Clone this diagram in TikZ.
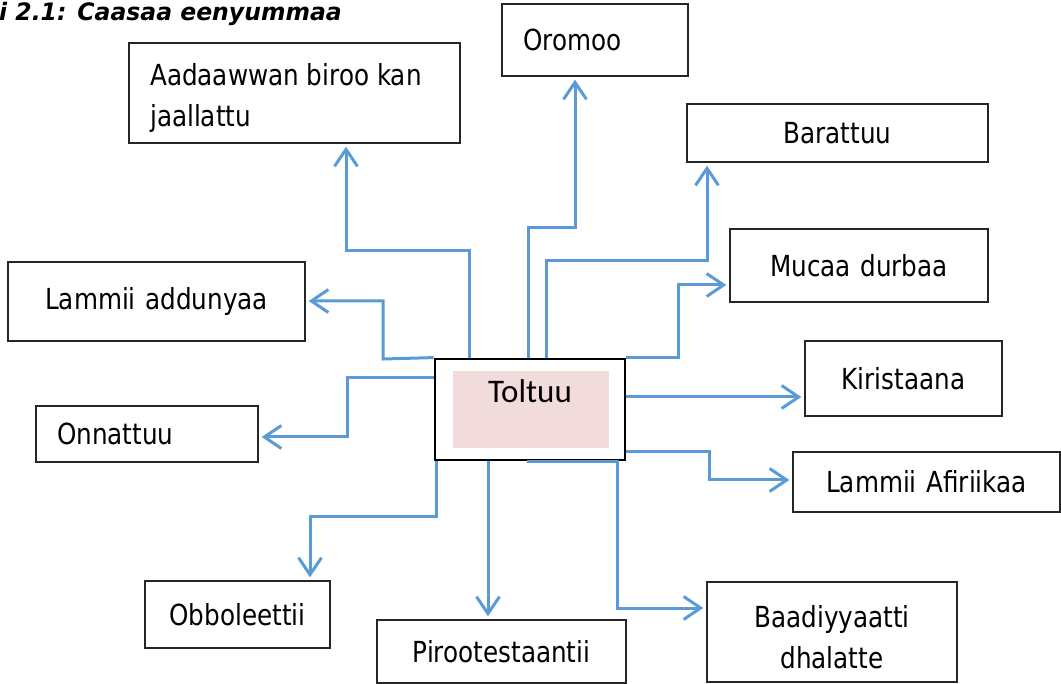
\documentclass[tikz,border=0pt]{standalone}
\usepackage{fontspec}
\setmainfont{DejaVu Sans}[FakeStretch=0.85]
\newfontfamily\calfont{Carlito}
\newfontfamily\titlefont{DejaVu Sans}[FakeStretch=0.98]
\usetikzlibrary{arrows.meta}
\definecolor{conn}{HTML}{5B9BD5}
\definecolor{pinkfill}{HTML}{F2DCDB}
\begin{document}
\begin{tikzpicture}[x=1pt,y=-1pt,
  box/.style={draw=black!85, line width=1.4pt, rectangle, inner ysep=0pt, fill=white,
    font=\fontsize{29}{37}\selectfont},
  lbl/.style={inner sep=0pt, font=\fontsize{29}{41}\selectfont},
  link/.style={draw=conn, line width=3pt, shorten >=3pt,
    -{Straight Barb[length=17pt,width=23pt]}},
  ttl/.style={font=\titlefont\fontsize{24}{24}\bfseries\itshape\selectfont}]
\useasboundingbox (0,0) rectangle (1061,684);

% title
\node[ttl, anchor=base east, inner sep=0pt] (title) at (342,21) {i 2.1: Caasaa eenyummaa};

% boxes
\node[box, minimum height=72, text width=144, inner xsep=21, align=left] (oro) at (595,40) {Oromoo};
\node[box, minimum width=331, minimum height=100] (aad) at (294.5,93) {};
\node[lbl, align=left, anchor=west] (aadt) at (150,98) {Aadaawwan biroo kan\\jaallattu};
\node[box, minimum height=58, text width=281, inner xsep=10, align=center] (bar) at (837.5,133) {Barattuu};
\node[box, minimum height=73, text width=238, inner xsep=10, align=center] (muc) at (859,265.5) {Mucaa durbaa};
\node[box, minimum height=79, text width=277, inner xsep=10, align=center] (lad) at (156.5,301.5) {Lammii addunyaa};
\node[box, minimum height=75, text width=177, inner xsep=10, align=center] (kir) at (903.5,378.5) {Kiristaana};
\node[box, minimum height=56, text width=180, inner xsep=21, align=left] (onn) at (147,434) {Onnattuu};
\node[box, minimum height=60, text width=242, inner xsep=12.5, align=center] (afr) at (926.5,482) {Lammii Afiriikaa};
\node[box, minimum height=67, text width=165, inner xsep=10, align=center] (obb) at (237.5,614.5) {Obboleettii};
\node[box, minimum height=63, text width=229, inner xsep=10, align=center] (pir) at (501.5,651.5) {Pirootestaantii};
\node[box, minimum width=250, minimum height=100] (baa) at (832,632) {};
\node[lbl, align=center] (baat) at (832,637) {Baadiyyaatti\\dhalatte};

% central box
\node[draw=black, line width=2.8pt, fill=white, minimum width=190, minimum height=101, inner sep=0pt] (t) at (530,409.5) {};
\node[fill=pinkfill, minimum width=156, minimum height=77, inner sep=0pt] (tin) at (531,409.5) {};
\node[font=\calfont\fontsize{33}{33}\selectfont, inner sep=0pt] (tt) at (530,391) {Toltuu};

% bend points
\coordinate (a1) at (469,251); \coordinate (a2) at (346,251);
\coordinate (o1) at (528,228); \coordinate (o2) at (575,228);
\coordinate (b1) at (546,261); \coordinate (b2) at (707,261);
\coordinate (m2) at (678,285);
\coordinate (k1) at (625,397);
\coordinate (f1) at (709,452); \coordinate (f2) at (709,480);
\coordinate (d0) at (527,459); \coordinate (d2) at (617,608);
\coordinate (p1) at (488,460);
\coordinate (ob1) at (436,517); \coordinate (ob2) at (310,517);
\coordinate (on1) at (347,378); \coordinate (on2) at (347,437);
\coordinate (l1) at (383,359); \coordinate (l2) at (383,301);

% connectors
\draw[link] (t.north -| a1) -- (a1) -- (a2) -- (aad.south -| a2);
\draw[link] (t.north -| o1) -- (o1) -- (o2) -- (oro.south -| o2);
\draw[link] (t.north -| b1) -- (b1) -- (b2) -- (bar.south -| b2);
\draw[link] (t.north east) -| (m2) -- (muc.west |- m2);
\draw[link] (t.east |- k1) -- (kir.west |- k1);
\draw[link] (t.east |- f1) -- (f1) -- (f2) -- (afr.west |- f2);
\draw[link] (t.south -| d0) -- (t.south -| d2) -- (d2) -- (baa.west |- d2);
\draw[link] (t.south -| p1) -- (pir.north -| p1);
\draw[link] (t.south -| ob1) -- (ob1) -- (ob2) -- (obb.north -| ob2);
\draw[link] (t.west |- on1) -- (on1) -- (on2) -- (onn.east |- on2);
\draw[link] (t.north west) -- (l1) -- (l2) -- (lad.east |- l2);
\end{tikzpicture}
\end{document}
